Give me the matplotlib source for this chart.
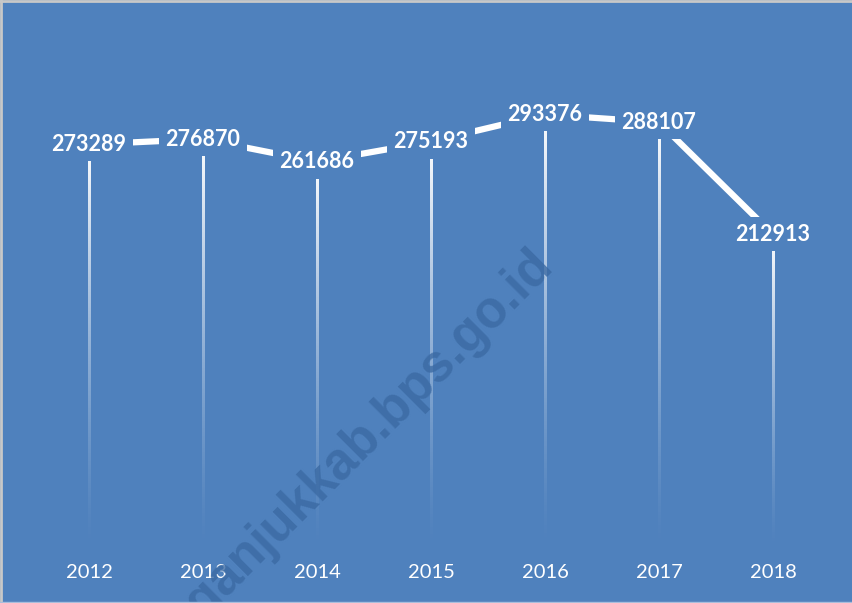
import matplotlib
matplotlib.use("Agg")
import matplotlib.pyplot as plt
import numpy as np
from matplotlib.lines import Line2D

years = ["2012", "2013", "2014", "2015", "2016", "2017", "2018"]
values = [273289, 276870, 261686, 275193, 293376, 288107, 212913]

BG = "#4F81BD"
fig = plt.figure(figsize=(8.53, 6.03), dpi=100)
fig.patch.set_facecolor(BG)
ax = fig.add_axes([32/853, 1 - 552/603, 798/853, 522/603])
ax.set_facecolor(BG)
for s in ax.spines.values():
    s.set_visible(False)

x = np.arange(len(years))

# fading drop lines (vertical gradient images)
n = 256
grad = np.zeros((n, 1, 4))
grad[..., :3] = 1.0
grad[:, 0, 3] = np.linspace(1.0, 0.0, n) ** 1.4
half_w = 1.1 / 114.0
for xi, v in zip(x, values):
    ax.imshow(grad, extent=(xi - half_w, xi + half_w, 0, v), aspect="auto",
              interpolation="bilinear", origin="upper", zorder=2)

ax.set_xlim(-0.5, len(years) - 0.5)
ax.set_ylim(0, 350000)

ax.plot(x, values, color="white", lw=4.5, solid_capstyle="butt", zorder=3)

for xi, v in zip(x, values):
    ax.text(xi, v, f"{v}", ha="center", va="center", color="white",
            fontsize=15.5, fontweight="bold", family="Lato", zorder=5,
            bbox=dict(boxstyle="square,pad=0.3", fc=BG, ec="none"))

ax.set_xticks(x)
ax.set_xticklabels(years, color="white", fontsize=14.5, family="Lato")
ax.tick_params(axis="x", length=0, pad=9)
ax.set_yticks([])

# watermark
fig.text(358/853, 1 - 444/603, "nganjukkab.bps.go.id", rotation=45,
         ha="center", va="center", fontsize=37, fontweight="bold",
         family="Liberation Sans", color="#3B6AA3", alpha=0.8, zorder=1)

# border
fig.add_artist(Line2D([0.001, 0.001], [0, 1], transform=fig.transFigure,
                      color="#C8C8C8", lw=2))
fig.add_artist(Line2D([0, 1], [0.998, 0.998], transform=fig.transFigure,
                      color="#C8C8C8", lw=2))
fig.add_artist(Line2D([0, 1], [0.002, 0.002], transform=fig.transFigure,
                      color="#A9BEDC", lw=1))

fig.savefig("out.png", dpi=100, facecolor=BG)
